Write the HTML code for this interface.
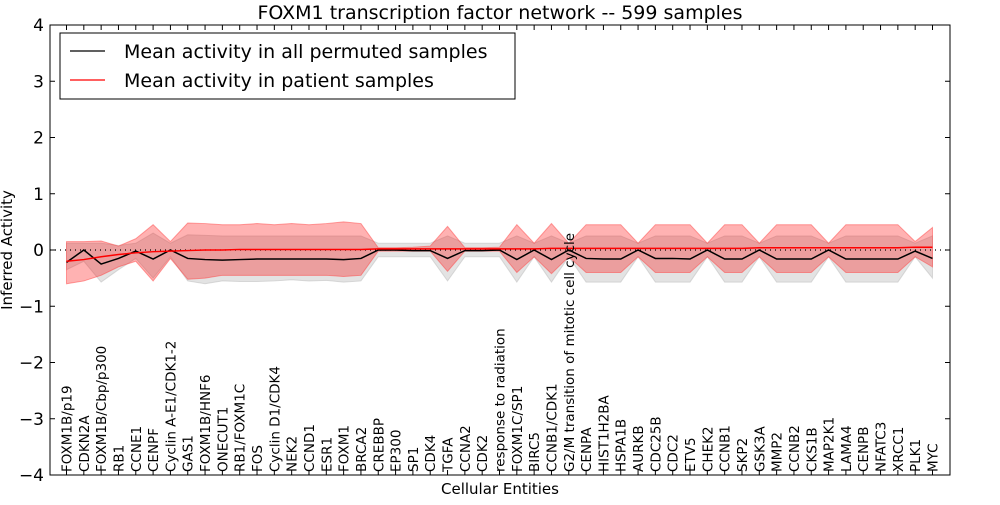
<!DOCTYPE html>
<html><head><meta charset="utf-8"><style>
body{margin:0;background:#fff;font-family:"Liberation Sans","DejaVu Sans",sans-serif;}
svg text{font-family:"DejaVu Sans","Liberation Sans",sans-serif;}
</style></head><body>
<svg id="chart" width="1000" height="500" viewBox="0 0 1000 500" xmlns="http://www.w3.org/2000/svg">
<rect x="0" y="0" width="1000" height="500" fill="#fff"/>
<text x="500" y="19" font-size="19" text-anchor="middle">FOXM1 transcription factor network -- 599 samples</text>
<g id="bands"></g>
<g id="lines"></g>
<g id="axes"></g>
<g id="legend">
<rect x="60" y="33" width="455" height="66" fill="#fff" stroke="#000" stroke-width="1"/>
<line x1="70" y1="51" x2="105" y2="51" stroke="#000" stroke-width="1.2"/>
<text x="124" y="58" font-size="19">Mean activity in all permuted samples</text>
<line x1="70" y1="80" x2="105" y2="80" stroke="#f00" stroke-width="1.2"/>
<text x="124" y="87" font-size="19">Mean activity in patient samples</text>
</g>
<text x="500" y="494" font-size="15" text-anchor="middle">Cellular Entities</text>
<text transform="translate(12,250) rotate(-90)" font-size="15" text-anchor="middle">Inferred Activity</text>
</svg>
<script>
const categories=["FOXM1B/p19","CDKN2A","FOXM1B/Cbp/p300","RB1","CCNE1","CENPF","Cyclin A-E1/CDK1-2","GAS1","FOXM1B/HNF6","ONECUT1","RB1/FOXM1C","FOS","Cyclin D1/CDK4","NEK2","CCND1","ESR1","FOXM1","BRCA2","CREBBP","EP300","SP1","CDK4","TGFA","CCNA2","CDK2","response to radiation","FOXM1C/SP1","BIRC5","CCNB1/CDK1","G2/M transition of mitotic cell cycle","CENPA","HIST1H2BA","HSPA1B","AURKB","CDC25B","CDC2","ETV5","CHEK2","CCNB1","SKP2","GSK3A","MMP2","CCNB2","CKS1B","MAP2K1","LAMA4","CENPB","NFATC3","XRCC1","PLK1","MYC"];
const permMean=[-0.22,0,-0.25,-0.15,-0.02,-0.16,0,-0.15,-0.17,-0.18,-0.17,-0.16,-0.16,-0.16,-0.16,-0.16,-0.17,-0.15,0,0,-0.01,-0.01,-0.15,-0.01,-0.01,0,-0.17,0,-0.17,0,-0.15,-0.16,-0.16,0,-0.15,-0.15,-0.16,0,-0.16,-0.16,0,-0.16,-0.16,-0.16,0,-0.16,-0.16,-0.16,-0.16,-0.02,-0.15];
const permUpper=[0.12,0.12,0.12,0.08,0.12,0.3,0.12,0.27,0.26,0.25,0.25,0.25,0.25,0.25,0.25,0.25,0.25,0.25,0.12,0.12,0.12,0.12,0.25,0.12,0.12,0.12,0.25,0.12,0.25,0.12,0.25,0.25,0.25,0.12,0.25,0.25,0.25,0.12,0.25,0.25,0.12,0.25,0.25,0.25,0.12,0.25,0.25,0.25,0.25,0.12,0.25];
const permLower=[-0.35,-0.2,-0.57,-0.35,-0.15,-0.5,-0.12,-0.55,-0.6,-0.55,-0.56,-0.56,-0.55,-0.53,-0.55,-0.54,-0.57,-0.55,-0.12,-0.12,-0.12,-0.12,-0.55,-0.12,-0.12,-0.12,-0.57,-0.12,-0.57,-0.12,-0.57,-0.57,-0.57,-0.12,-0.57,-0.57,-0.57,-0.12,-0.57,-0.57,-0.12,-0.57,-0.57,-0.57,-0.12,-0.57,-0.57,-0.57,-0.57,-0.12,-0.5];
const patMean=[-0.2,-0.17,-0.12,-0.08,-0.05,-0.03,-0.02,-0.01,0,0,0.01,0.01,0.01,0.01,0.01,0.01,0.01,0.01,0.02,0.02,0.02,0.02,0.02,0.02,0.02,0.02,0.02,0.02,0.03,0.03,0.03,0.03,0.03,0.03,0.03,0.03,0.03,0.03,0.03,0.03,0.04,0.04,0.04,0.04,0.04,0.04,0.04,0.04,0.04,0.05,0.05];
const patUpper=[0.15,0.15,0.16,0.07,0.2,0.45,0.15,0.48,0.47,0.45,0.45,0.47,0.45,0.47,0.45,0.47,0.5,0.47,0.04,0.04,0.05,0.07,0.42,0.04,0.04,0.05,0.45,0.12,0.47,0.12,0.45,0.45,0.45,0.12,0.45,0.45,0.45,0.12,0.45,0.45,0.12,0.45,0.45,0.45,0.12,0.45,0.45,0.45,0.45,0.15,0.4];
const patLower=[-0.6,-0.55,-0.45,-0.3,-0.2,-0.55,-0.15,-0.52,-0.5,-0.45,-0.45,-0.45,-0.45,-0.45,-0.45,-0.45,-0.47,-0.45,-0.02,-0.02,-0.02,-0.02,-0.38,-0.02,-0.02,-0.02,-0.4,-0.12,-0.42,-0.12,-0.4,-0.4,-0.4,-0.12,-0.4,-0.4,-0.4,-0.12,-0.4,-0.4,-0.12,-0.4,-0.4,-0.4,-0.12,-0.4,-0.4,-0.4,-0.4,-0.12,-0.3];
const yTicks=[-4,-3,-2,-1,0,1,2,3,4];

const NS="http://www.w3.org/2000/svg";
const L=50,R=950,T=25,B=475;
const xs=i=>66.5+i*(932.5-66.5)/(categories.length-1);
const ys=v=>T+(4-v)*(B-T)/8;
function mk(tag,attrs,parent){const e=document.createElementNS(NS,tag);for(const k in attrs)e.setAttribute(k,attrs[k]);parent.appendChild(e);return e;}
const bands=document.getElementById('bands'),lines=document.getElementById('lines'),axes=document.getElementById('axes');
function band(up,lo,fill,op,stroke){
  let d='M'+up.map((v,i)=>xs(i)+','+ys(v)).join(' L')+' L'+lo.map((v,i)=>[i,v]).reverse().map(([i,v])=>xs(i)+','+ys(v)).join(' L')+'Z';
  return mk('path',{d:d,fill:fill,'fill-opacity':op,stroke:stroke,'stroke-opacity':0.5,'stroke-width':1},bands);
}
const gb=band(permUpper,permLower,'#b0b0b0',0.35,'#bbb');


const rb=band(patUpper,patLower,'#ff0000',0.3,'#f44');


const zl=mk('line',{x1:L,x2:R,y1:ys(0),y2:ys(0),stroke:'#000','stroke-dasharray':'1,4','stroke-width':1.2},lines);


function line(arr,col){return mk('polyline',{points:arr.map((v,i)=>xs(i)+','+ys(v)).join(' '),fill:'none',stroke:col,'stroke-width':1.5},lines);}
const bl=line(permMean,'#000');


const rl=line(patMean,'#f00');


const fr=mk('rect',{x:L,y:T,width:R-L,height:B-T,fill:'none',stroke:'#000','stroke-width':1},axes);


yTicks.forEach(v=>{
  mk('line',{x1:L,x2:L+5,y1:ys(v),y2:ys(v),stroke:'#000'},axes);
  mk('line',{x1:R-5,x2:R,y1:ys(v),y2:ys(v),stroke:'#000'},axes);
  const t=mk('text',{x:L-6,y:ys(v)+6,'font-size':17,'text-anchor':'end'},axes);
  t.textContent=(v<0?'\u2212'+(-v):String(v));
  
  
});
categories.forEach((c,i)=>{
  const x=xs(i);
  mk('line',{x1:x,x2:x,y1:B,y2:B-5,stroke:'#000'},axes);
  mk('line',{x1:x,x2:x,y1:T,y2:T+5,stroke:'#000'},axes);
  const t=mk('text',{transform:'translate('+(x+5)+','+(B-3)+') rotate(-90)','font-size':13.5},axes);
  t.textContent=c;
  
  
});
</script>
</body></html>
